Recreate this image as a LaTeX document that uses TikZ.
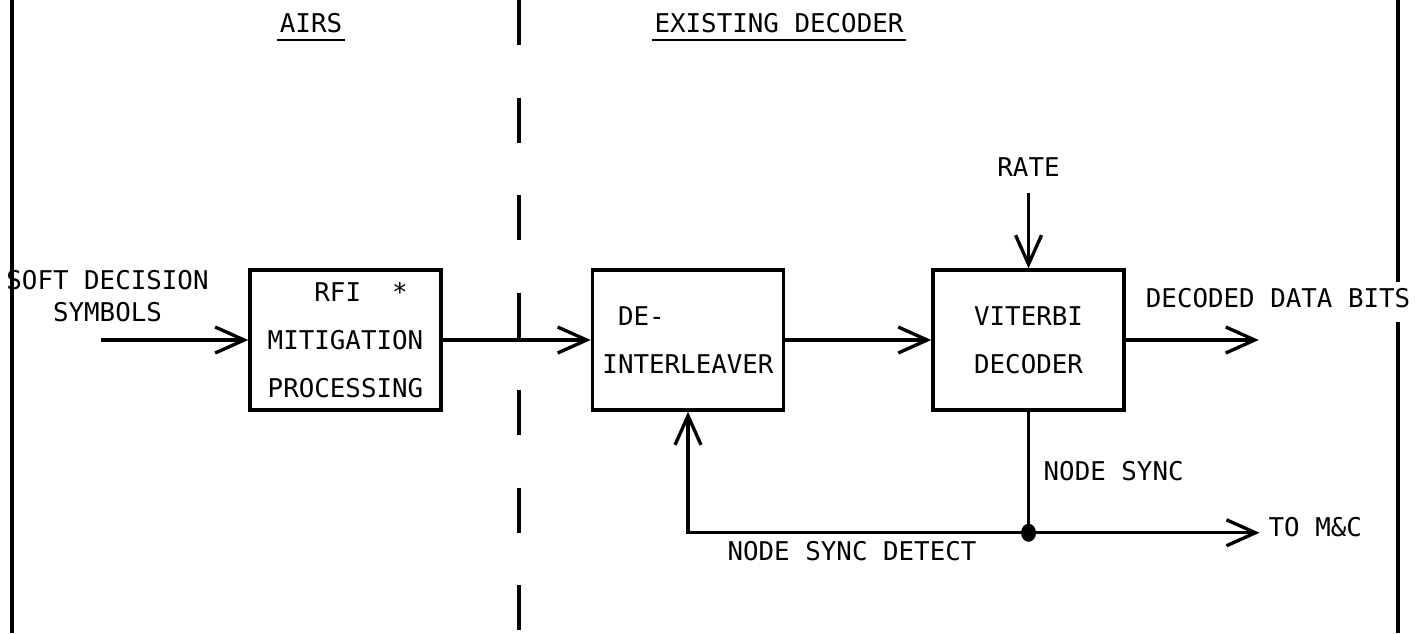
\documentclass[tikz,border=0pt]{standalone}
\usepackage{fontspec}
\setmonofont{DejaVu Sans Mono}
\usepackage{tikz}
\usetikzlibrary{positioning,arrows.meta}

\newcommand{\tyfont}{\ttfamily\fontsize{14.7}{27.5}\selectfont}

\tikzset{
	block/.style={draw,
	rectangle,
	line width=2pt,
	minimum width=3.82cm,
	minimum height=2.8cm,
	font=\tyfont},
	txt/.style={font=\tyfont, inner sep=1pt},
	heading/.style={font=\tyfont, anchor=base, inner xsep=0.05cm, inner ysep=0.14cm},
	flow/.style={-{Straight Barb[length=0.58cm,width=0.52cm]}, line width=1.9pt},
	frame/.style={line width=2.4pt}
}

\begin{document}
\begin{tikzpicture}

	% \draw[help lines, step=1cm,gray!20] (0,-13) grid (29,0);
	\useasboundingbox (0,0) rectangle (28.44,-12.66);

	% frame and divider
	\draw[frame] (0.24,0) -- (0.24,-12.66);
	\draw[frame] (27.96,0) -- (27.96,-5.64);
	\draw[frame] (27.96,-6.44) -- (27.96,-12.66);
	\draw[frame, dash pattern=on 0.9cm off 1.05cm] (10.38,0) -- (10.38,-12.66);

	\node[heading] (tairs) at (6.22,-0.64) {AIRS};
	\node[heading] (tdec) at (15.58,-0.64) {EXISTING DECODER};
	\draw[line width=1.2pt] (tairs.south west) -- (tairs.south east);
	\draw[line width=1.2pt] (tdec.south west) -- (tdec.south east);

	\node[block,
	align=left] (RFI) at (6.91,-6.8) {\hphantom{MIT}RFI\hphantom{MI}*\\MITIGATION\\PROCESSING};

	\node[block,
	align=left] (DEINT) [right = 2.96cm of RFI] {\hphantom{I}DE-\\INTERLEAVER};

	\node[block,
	align=center] (VIT) [right = 2.92cm of DEINT] {VITERBI\\DECODER};

	\coordinate[left = 2.94cm of RFI.west] (in);
	\coordinate[above = 1.5cm of VIT.north] (ratein);
	\coordinate[right = 2.66cm of VIT.east] (dataout);
	\coordinate[below = 2.42cm of VIT.south] (jct);
	\coordinate[right = 4.62cm of jct] (mcout);

	\node[txt,
	align=center,
	font=\ttfamily\fontsize{14.7}{18}\selectfont] (tsoft) at (2.15,-5.92) {SOFT DECISION\\SYMBOLS};
	\node[txt] (trate) [above = 0.3cm of ratein] {RATE};
	\node[txt] (tdata) [above right = 0.6cm and 0.36cm of VIT.east] {DECODED DATA BITS};
	\node[txt] (tsync) [above right = 1.0cm and 0.26cm of jct] {NODE SYNC};
	\node[txt] (tdetect) [below left = 0.12cm and 1.0cm of jct] {NODE SYNC DETECT};
	\node[txt] (tmc) [right = 0.14cm of mcout, yshift=0.12cm] {TO M\&C};

	\draw[flow] (in) -- (RFI.west);
	\draw[flow] (RFI.east) -- (DEINT.west);
	\draw[flow] (DEINT.east) -- (VIT.west);
	\draw[flow] (ratein) -- (VIT.north);
	\draw[flow] (VIT.east) -- (dataout);
	\draw[line width=1.9pt] (VIT.south) -- (jct);
	\draw[flow] (jct) -- (mcout);
	\draw[flow] (jct) -| (DEINT.south);
	\fill (jct) ellipse (0.15cm and 0.18cm);

\end{tikzpicture}
\end{document}
